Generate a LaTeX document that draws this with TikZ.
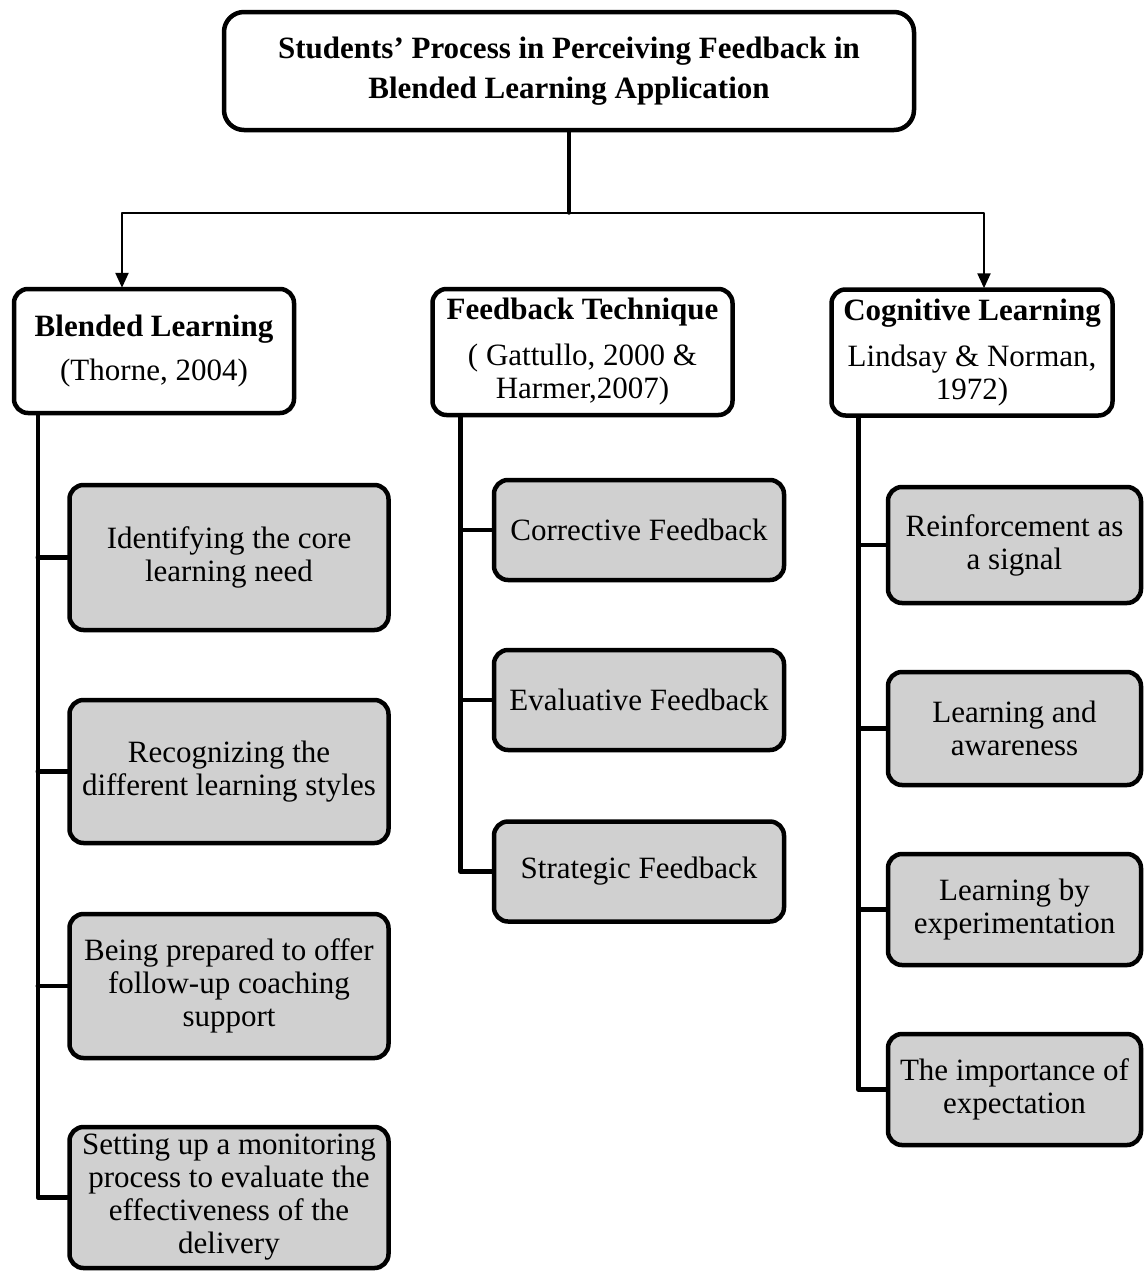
\documentclass[tikz,border=0pt]{standalone}
\usepackage{fontspec}
\setmainfont{Liberation Serif}
\usetikzlibrary{arrows.meta}

\definecolor{boxgray}{HTML}{D0D0D0}

\begin{document}
\begin{tikzpicture}[x=1pt,y=-1pt,line cap=round,line join=round,
    box/.style={draw,line width=4.5pt,rounded corners=14pt,align=center,inner sep=0pt,
        font=\fontsize{31}{33}\selectfont},
    headbox/.style={box,fill=white},
    itembox/.style={box,fill=boxgray},
    spine/.style={line width=4.5pt},
    conn/.style={line width=2.4pt}]

    \useasboundingbox (0,0) rectangle (1147,1272);

    % top box
    \node[headbox,rounded corners=20pt,minimum width=690pt,minimum height=118pt] (top) at (569,71)
        {\textbf{Students’ Process in Perceiving Feedback in}\\[7pt]\textbf{Blended Learning Application}};

    % heads
    \node[headbox,minimum width=280pt,minimum height=124pt] (blend) at (154,351)
        {\textbf{Blended Learning}\\[11pt](Thorne, 2004)};
    \node[headbox,minimum width=300pt,minimum height=126pt] (feedb) at (582.5,352)
        {\textbf{Feedback Technique}\\[13pt]( Gattullo, 2000 \&\\Harmer,2007)};
    \node[headbox,minimum width=281pt,minimum height=126pt] (cogn) at (972,352.5)
        {\textbf{Cognitive Learning}\\[13pt]Lindsay \& Norman,\\1972)};

    % left items
    \node[itembox,minimum width=319pt,minimum height=145pt] (bl1) at (229,557.5)
        {Identifying the core\\learning need};
    \node[itembox,minimum width=319pt,minimum height=143pt] (bl2) at (229,771.5)
        {Recognizing the\\different learning styles};
    \node[itembox,minimum width=319pt,minimum height=144pt] (bl3) at (229,986)
        {Being prepared to offer\\follow-up coaching\\support};
    \node[itembox,minimum width=319pt,minimum height=141pt] (bl4) at (229,1197.5)
        {Setting up a monitoring\\process to evaluate the\\effectiveness of the\\delivery};

    % middle items
    \node[itembox,minimum width=290pt,minimum height=100pt] (fb1) at (639,530) {Corrective Feedback};
    \node[itembox,minimum width=290pt,minimum height=100pt] (fb2) at (639,700) {Evaluative Feedback};
    \node[itembox,minimum width=290pt,minimum height=100pt] (fb3) at (639,871.5) {Strategic Feedback};

    % right items
    \node[itembox,minimum width=253pt,minimum height=116pt] (cl1) at (1014.5,545)
        {Reinforcement as\\a signal};
    \node[itembox,minimum width=253pt,minimum height=113pt] (cl2) at (1014.5,728.5)
        {Learning and\\awareness};
    \node[itembox,minimum width=253pt,minimum height=111pt] (cl3) at (1014.5,909.5)
        {Learning by\\experimentation};
    \node[itembox,minimum width=253pt,minimum height=111pt] (cl4) at (1014.5,1089.5)
        {The importance of\\expectation};

    % top connectors
    \coordinate (hub) at (569,213);
    \draw[line width=3.4pt] (top) -- (hub);
    \draw[conn,-{Triangle[length=15pt,width=13pt]},shorten >=-1pt] (hub) -| ([xshift=-32pt]blend.north);
    \draw[conn,-{Triangle[length=15pt,width=13pt]},shorten >=-1pt] (hub) -| ([xshift=12pt]cogn.north);

    % spines
    \coordinate (lsp) at ([xshift=26pt]blend.south west);
    \coordinate (msp) at ([xshift=30pt]feedb.south west);
    \coordinate (rsp) at ([xshift=29pt]cogn.south west);
    \draw[spine] (lsp) |- (bl4.west);
    \draw[spine] (msp) |- (fb3.west);
    \draw[spine] (rsp) |- (cl4.west);

    % branches
    \foreach \n in {bl1,bl2,bl3}
        \draw[spine] (\n.west) -- (\n.west -| lsp);
    \foreach \n in {fb1,fb2}
        \draw[spine] (\n.west) -- (\n.west -| msp);
    \foreach \n in {cl1,cl2,cl3}
        \draw[spine] (\n.west) -- (\n.west -| rsp);

\end{tikzpicture}
\end{document}
